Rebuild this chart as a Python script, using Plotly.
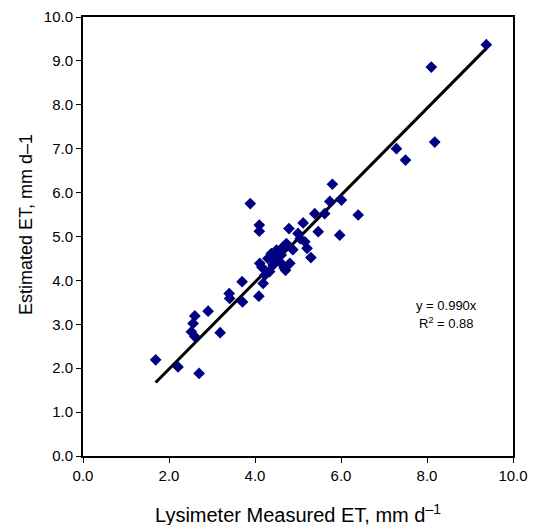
import numpy as np
import plotly.graph_objects as go

measured = [1.69, 2.21, 2.70, 2.60, 2.56, 2.52, 2.60, 2.91, 3.19, 3.40, 3.41, 3.71, 3.70,
            3.89, 4.10, 4.10, 4.09, 4.19, 4.11, 4.16, 4.23, 4.34, 4.30, 4.38, 4.46, 4.50,
            4.58, 4.61, 4.65, 4.73, 4.71, 4.81, 4.79, 4.88, 5.00, 5.16, 5.12, 5.21, 5.30,
            5.39, 5.47, 5.62, 5.74, 5.80, 5.97, 6.01, 6.40, 4.42, 4.55, 4.68, 5.05,
            7.29, 7.50, 8.10, 8.18, 9.38]
estimated = [2.19, 2.03, 1.88, 3.19, 3.02, 2.83, 2.72, 3.30, 2.81, 3.70, 3.59, 3.51, 3.97,
             5.75, 5.26, 5.12, 3.64, 3.93, 4.39, 4.30, 4.12, 4.20, 4.50, 4.61, 4.46, 4.69,
             4.42, 4.58, 4.76, 4.84, 4.23, 4.39, 5.18, 4.70, 5.07, 4.88, 5.31, 4.73, 4.52,
             5.52, 5.11, 5.52, 5.80, 6.19, 5.03, 5.83, 5.49, 4.35, 4.55, 4.28, 4.95,
             7.00, 6.74, 8.86, 7.15, 9.37]
slope = 0.990
r_squared = 0.88
x_title = "Lysimeter Measured ET, mm d<sup>\u20131</sup>"
y_title = "Estimated ET, mm d\u20131"

fit_x = np.array([min(measured), max(measured)])
fit_y = slope * fit_x

font_family = "Liberation Sans, Arial, sans-serif"

fig = go.Figure()
fig.add_trace(go.Scatter(
    x=fit_x, y=fit_y, mode="lines",
    line=dict(color="black", width=3), showlegend=False, hoverinfo="skip"))
fig.add_trace(go.Scatter(
    x=measured, y=estimated, mode="markers",
    marker=dict(symbol="diamond", size=9, color="#000080", line=dict(width=0)),
    showlegend=False))

fig.add_annotation(x=8.45, y=3.42, text=f"y = {slope:.3f}x", showarrow=False,
                   font=dict(family=font_family, size=13, color="black"))
fig.add_annotation(x=8.45, y=3.02, text=f"R<sup>2</sup> = {r_squared:.2f}", showarrow=False,
                   font=dict(family=font_family, size=13, color="black"))

# axis titles as paper-anchored annotations
fig.add_annotation(xref="paper", yref="paper", x=0.5, y=0, xanchor="center", yanchor="middle",
                   yshift=-57, text=x_title, showarrow=False,
                   font=dict(family=font_family, size=20, color="black"))
fig.add_annotation(xref="paper", yref="paper", x=0, y=0.526, xanchor="center", yanchor="middle",
                   xshift=-57, textangle=-90, text=y_title, showarrow=False,
                   font=dict(family=font_family, size=18, color="black"))

axis_common = dict(
    showgrid=False, zeroline=False, showline=True, linecolor="black", linewidth=2,
    mirror=True, ticks="outside", ticklen=5, tickwidth=1, tickcolor="black",
    tickformat=".1f", tickfont=dict(family=font_family, size=15, color="black"),
    automargin=False,
)

fig.update_xaxes(range=[0, 10], dtick=2, tick0=0, **axis_common)
fig.update_yaxes(range=[0, 10], dtick=1, tick0=0, **axis_common)

fig.update_layout(
    width=534, height=525, autosize=False,
    margin=dict(l=83, r=21, t=17, b=69),
    plot_bgcolor="white", paper_bgcolor="white",
    font=dict(family=font_family, color="black"),
)

fig.write_html("out.html",
               config={"displayModeBar": False},
               post_script="document.body.style.margin='0';document.body.style.overflow='hidden';")
